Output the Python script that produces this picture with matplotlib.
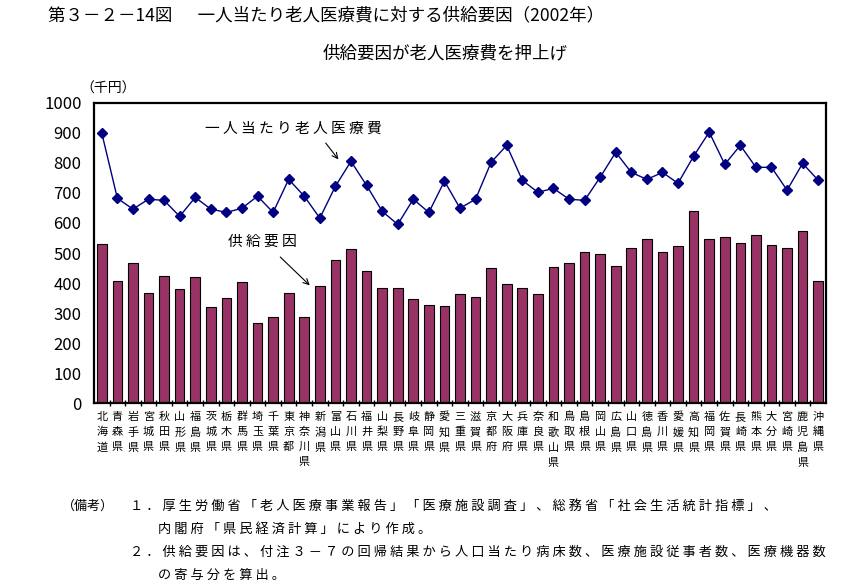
import numpy as np
import matplotlib
matplotlib.use('Agg')
import matplotlib.pyplot as plt

plt.rcParams['font.family'] = ['Noto Sans CJK JP', 'DejaVu Sans']

prefs = ['北海道', '青森県', '岩手県', '宮城県', '秋田県', '山形県', '福島県', '茨城県',
         '栃木県', '群馬県', '埼玉県', '千葉県', '東京都', '神奈川県', '新潟県', '富山県',
         '石川県', '福井県', '山梨県', '長野県', '岐阜県', '静岡県', '愛知県', '三重県',
         '滋賀県', '京都府', '大阪府', '兵庫県', '奈良県', '和歌山県', '鳥取県', '島根県',
         '岡山県', '広島県', '山口県', '徳島県', '香川県', '愛媛県', '高知県', '福岡県',
         '佐賀県', '長崎県', '熊本県', '大分県', '宮崎県', '鹿児島県', '沖縄県']

# 一人当たり老人医療費（千円）
cost = [899, 682, 646, 679, 675, 622, 685, 646, 635, 649, 689, 635, 745, 689,
        616, 722, 805, 725, 639, 595, 679, 635, 739, 649, 679, 802, 858, 742,
        702, 715, 679, 675, 752, 835, 768, 745, 768, 732, 822, 902, 795, 858,
        785, 785, 709, 798, 742]

# 供給要因（千円）
supply = [529, 406, 466, 366, 422, 379, 419, 319, 349, 403, 266, 286, 366, 286,
          389, 476, 512, 439, 383, 383, 346, 326, 323, 363, 353, 449, 396, 383,
          363, 452, 466, 502, 496, 456, 516, 546, 502, 522, 639, 546, 552, 532,
          559, 525, 516, 572, 406]

title = '第３－２－14図　  一人当たり老人医療費に対する供給要因（2002年）'
subtitle = '供給要因が老人医療費を押上げ'
notes = [('１．厚生労働省「老人医療事業報告」「医療施設調査」、総務省「社会生活統計指標」、', 130),
         ('内閣府「県民経済計算」により作成。', 158),
         ('２．供給要因は、付注３－７の回帰結果から人口当たり病床数、医療施設従事者数、医療機器数', 130),
         ('の寄与分を算出。', 158)]


def spaced(s):
    return ' '.join(s)


W, H = 851, 586
fig = plt.figure(figsize=(W / 100, H / 100), dpi=100)
ax = fig.add_axes([94 / W, 1 - 403.3 / H, (826 - 94) / W, (403.3 - 102.7) / H])

x = np.arange(len(prefs))
ax.bar(x, supply, width=0.62, color='#993366', edgecolor='black', linewidth=0.8, zorder=2)
ax.plot(x, cost, color='#000080', linewidth=1, marker='D', markersize=5.5,
        markerfacecolor='#000080', markeredgecolor='#000080', zorder=3)

ax.set_xlim(-0.5, len(prefs) - 0.5)
ax.set_ylim(0, 1000)
ax.set_yticks(np.arange(0, 1001, 100))
ax.tick_params(axis='y', length=0, pad=9, labelsize=12)
ax.set_xticks(x)
ax.set_xticklabels(['\n'.join(p) for p in prefs], fontsize=8, linespacing=1.62,
                   va='top')
ax.tick_params(axis='x', length=0, pad=6)
ax.set_xticks(x[:-1] + 0.5, minor=True)
ax.tick_params(axis='x', which='minor', direction='inout', length=4, width=1)
for s in ax.spines.values():
    s.set_linewidth(1.6)

# annotations
ax.text(6.63, 912, spaced('一人当たり老人医療費'), fontsize=10.6, va='center', ha='left')
ax.annotate('', xy=(15.3, 804), xytext=(14.27, 873),
            arrowprops=dict(arrowstyle='->', color='black', lw=0.8))
ax.text(8.1, 538, spaced('供給要因'), fontsize=10.6, va='center', ha='left')
ax.annotate('', xy=(13.48, 386), xytext=(11.33, 493),
            arrowprops=dict(arrowstyle='->', color='black', lw=0.8))

fig.text(48 / W, 1 - 15 / H, title, fontsize=12.6, va='center', ha='left')
fig.text(445 / W, 1 - 53 / H, subtitle, fontsize=12.6, va='center', ha='center')
fig.text(80 / W, 1 - 89 / H, '（千円）', fontsize=10, va='center', ha='left')

fig.text(62 / W, 1 - 506 / H, '（備考）', fontsize=9.4, va='center', ha='left')
for (txt, xl), yl in zip(notes, [506, 529, 552, 575]):
    fig.text(xl / W, 1 - yl / H, spaced(txt), fontsize=9.5, va='center', ha='left')

fig.savefig('out.png', dpi=100)
